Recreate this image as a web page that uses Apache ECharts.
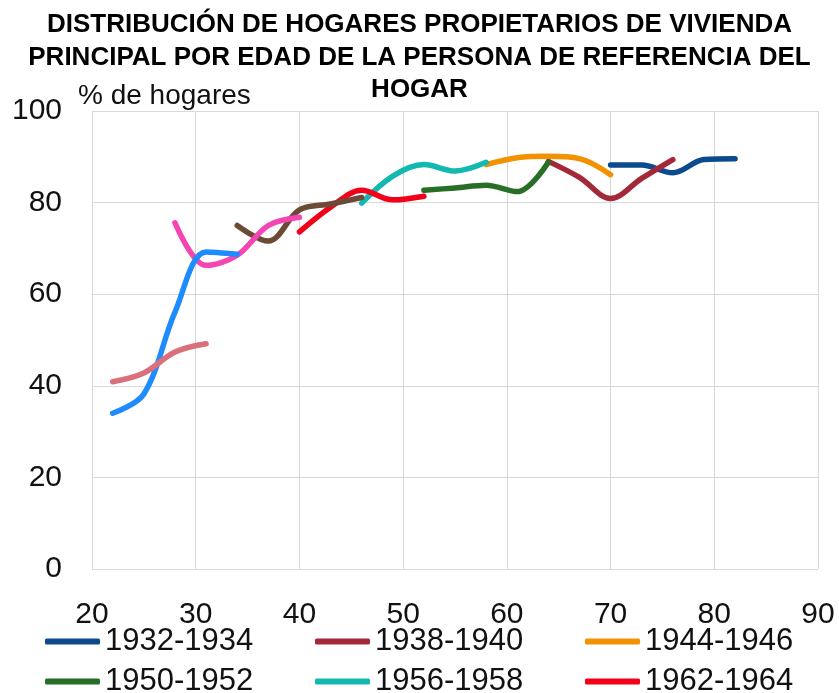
<!DOCTYPE html>
<html>
<head>
<meta charset="utf-8">
<script src="https://cdn.jsdelivr.net/npm/echarts@6/dist/echarts.min.js"></script>
<style>
  html, body { margin: 0; padding: 0; background: #fff; }
  #main { width: 839px; height: 693px; }
</style>
</head>
<body>
<div id="main"></div>
<script>
// cohortes (año de nacimiento) y % de hogares propietarios por edad
var c1932 = { ages: [70, 73, 76, 79, 82], vals: [88.2, 88.2, 86.5, 89.4, 89.6] };
var c1938 = { ages: [64, 67, 70, 73, 76], vals: [89.0, 85.5, 80.9, 85.3, 89.4] };
var c1944 = { ages: [58, 61, 64, 67, 70], vals: [88.3, 89.8, 90.1, 89.6, 86.1] };
var c1950 = { ages: [52, 55, 58, 61, 64], vals: [82.7, 83.2, 83.8, 82.4, 88.8] };
var c1956 = { ages: [46, 49, 52, 55, 58], vals: [79.9, 85.8, 88.3, 86.9, 88.8] };
var c1962 = { ages: [40, 43, 46, 49, 52], vals: [73.6, 79.0, 82.7, 80.6, 81.4] };
var c1968 = { ages: [34, 37, 40, 43, 46], vals: [75.0, 71.6, 78.4, 79.7, 81.1] };
var c1974 = { ages: [28, 31, 34, 37, 40], vals: [75.6, 66.3, 68.5, 75.0, 76.8] };
var c1980 = { ages: [22, 25, 28, 31, 34], vals: [34.0, 38.2, 56.1, 69.2, 68.7] };
var c1986 = { ages: [22, 25, 28, 31], vals: [40.9, 42.8, 47.4, 49.2] };

var xTicks = [20, 30, 40, 50, 60, 70, 80, 90];
var yTicks = [0, 20, 40, 60, 80, 100];

var FONT = '"Liberation Sans", Arial, sans-serif';

var cohorts = [
    { name: '1932-1934', d: c1932, color: '#0b4a8c' },
    { name: '1938-1940', d: c1938, color: '#a3293a' },
    { name: '1944-1946', d: c1944, color: '#f39200' },
    { name: '1950-1952', d: c1950, color: '#276f27' },
    { name: '1956-1958', d: c1956, color: '#13b8b0' },
    { name: '1962-1964', d: c1962, color: '#f2001a' },
    { name: '1968-1970', d: c1968, color: '#6b4b36' },
    { name: '1974-1976', d: c1974, color: '#f545b2' },
    { name: '1980-1982', d: c1980, color: '#1e8cff' },
    { name: '1986-1988', d: c1986, color: '#d9707c' }
];

var series = cohorts.map(function (c) {
    return {
        name: c.name,
        type: 'line',
        data: c.d.ages.map(function (a, i) { return [a, c.d.vals[i]]; }),
        smooth: 0.35,
        symbol: 'none',
        showSymbol: false,
        color: c.color,
        lineStyle: { width: 5.5, color: c.color, cap: 'round', join: 'round' }
    };
});

// una leyenda por columna (dos filas)
function legendCol(left, names) {
    return {
        orient: 'vertical',
        left: left,
        top: 626,
        height: 80,
        padding: 0,
        itemGap: 9,
        itemWidth: 55,
        itemHeight: 6,
        icon: 'roundRect',
        selectedMode: false,
        data: names,
        textStyle: { fontFamily: FONT, fontSize: 31, color: '#111', lineHeight: 29 }
    };
}

var chart = echarts.init(document.getElementById('main'));
chart.setOption({
    animation: false,
    backgroundColor: '#fff',
    title: {
        text: 'DISTRIBUCIÓN DE HOGARES PROPIETARIOS DE VIVIENDA\nPRINCIPAL POR EDAD DE LA PERSONA DE REFERENCIA DEL\nHOGAR',
        left: 'center',
        top: 9,
        padding: 0,
        textStyle: { fontFamily: FONT, fontSize: 26, fontWeight: 'bold', color: '#000', lineHeight: 32.5 }
    },
    legend: [
        legendCol(45, ['1932-1934', '1950-1952']),
        legendCol(315, ['1938-1940', '1956-1958']),
        legendCol(585, ['1944-1946', '1962-1964'])
    ],
    grid: { left: 92, right: 21, top: 111, bottom: 124 },
    xAxis: {
        type: 'value',
        min: xTicks[0],
        max: xTicks[xTicks.length - 1],
        interval: 10,
        axisLine: { show: false },
        axisTick: { show: false },
        axisLabel: { fontFamily: FONT, fontSize: 30, color: '#111', margin: 31, lineHeight: 30 },
        splitLine: { show: true, lineStyle: { color: '#d9d9d9', width: 1 } }
    },
    yAxis: {
        type: 'value',
        min: yTicks[0],
        max: yTicks[yTicks.length - 1],
        interval: 20,
        name: '% de hogares',
        nameLocation: 'end',
        nameGap: 15,
        nameTextStyle: { fontFamily: FONT, fontSize: 28, color: '#111', align: 'left', verticalAlign: 'middle', padding: [0, 0, 0, -14] },
        axisLine: { show: true, lineStyle: { color: '#d9d9d9', width: 1 } },
        axisTick: { show: false },
        axisLabel: { fontFamily: FONT, fontSize: 30, color: '#111', margin: 30 },
        splitLine: { show: true, lineStyle: { color: '#d9d9d9', width: 1 } }
    },
    series: series
});
</script>
</body>
</html>
